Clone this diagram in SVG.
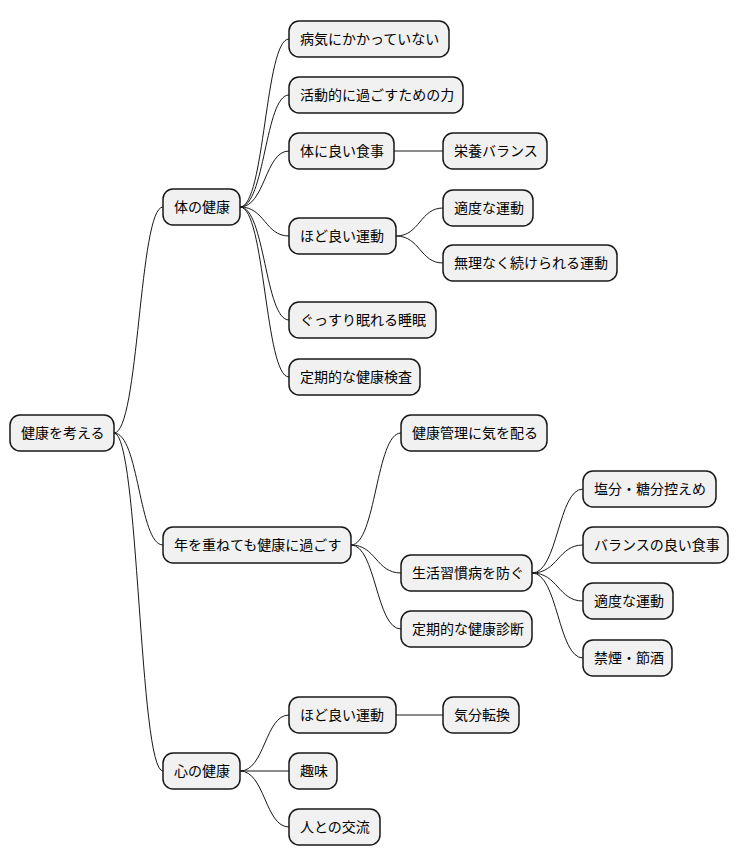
<svg xmlns="http://www.w3.org/2000/svg" width="740" height="865" viewBox="0 0 740 865">
<style>
rect{fill:#F1F1F1;stroke:#181818;stroke-width:1.5}
text{font-family:"Noto Sans CJK JP","Noto Sans",sans-serif;font-size:14px;fill:#000}
.c path{fill:none;stroke:#181818;stroke-width:1}
</style>
<rect x="0" y="0" width="740" height="865" style="fill:#fff;stroke:none"/>
<g class="c">
<path d="M114,433 C139,433 139,207 163,207"/>
<path d="M114,433 C139,433 139,545 163,545"/>
<path d="M114,433 C139,433 139,771 163,771"/>
<path d="M240,207 C265,207 265,39 289,39"/>
<path d="M240,207 C265,207 265,95 289,95"/>
<path d="M240,207 C265,207 265,151 289,151"/>
<path d="M240,207 C265,207 265,236 289,236"/>
<path d="M240,207 C265,207 265,320 289,320"/>
<path d="M240,207 C265,207 265,377 289,377"/>
<path d="M394,151 L443,151"/>
<path d="M396,236 C420,236 420,208 443,208"/>
<path d="M396,236 C420,236 420,263 443,263"/>
<path d="M351,545 C376,545 376,433 401,433"/>
<path d="M351,545 C376,545 376,573 401,573"/>
<path d="M351,545 C376,545 376,629 401,629"/>
<path d="M532,573 C558,573 558,489 583,489"/>
<path d="M532,573 C558,573 558,545 583,545"/>
<path d="M532,573 C558,573 558,601 583,601"/>
<path d="M532,573 C558,573 558,658 583,658"/>
<path d="M240,771 C265,771 265,715 289,715"/>
<path d="M240,771 L289,771"/>
<path d="M240,771 C265,771 265,827 289,827"/>
<path d="M396,715 L443,715"/>
</g>
<g id="root"><rect x="10" y="415" width="104" height="36" rx="10"/><text x="21" y="438">健康を考える</text></g>
<g id="n1"><rect x="163" y="189" width="77" height="36" rx="10"/><text x="174" y="212">体の健康</text></g>
<g id="n2"><rect x="163" y="527" width="188" height="36" rx="10"/><text x="174" y="550">年を重ねても健康に過ごす</text></g>
<g id="n3"><rect x="163" y="753" width="77" height="36" rx="10"/><text x="174" y="776">心の健康</text></g>
<g id="n11"><rect x="289" y="21" width="160" height="36" rx="10"/><text x="300" y="44">病気にかかっていない</text></g>
<g id="n12"><rect x="289" y="77" width="174" height="36" rx="10"/><text x="300" y="100">活動的に過ごすための力</text></g>
<g id="n13"><rect x="289" y="133" width="105" height="36" rx="10"/><text x="300" y="156">体に良い食事</text></g>
<g id="n131"><rect x="443" y="133" width="104" height="36" rx="10"/><text x="454" y="156">栄養バランス</text></g>
<g id="n14"><rect x="289" y="218" width="107" height="36" rx="10"/><text x="300" y="241">ほど良い運動</text></g>
<g id="n141"><rect x="443" y="190" width="90" height="36" rx="10"/><text x="454" y="213">適度な運動</text></g>
<g id="n142"><rect x="443" y="245" width="174" height="36" rx="10"/><text x="454" y="268">無理なく続けられる運動</text></g>
<g id="n15"><rect x="289" y="302" width="147" height="36" rx="10"/><text x="300" y="325">ぐっすり眠れる睡眠</text></g>
<g id="n16"><rect x="289" y="359" width="131" height="36" rx="10"/><text x="300" y="382">定期的な健康検査</text></g>
<g id="n21"><rect x="401" y="415" width="146" height="36" rx="10"/><text x="412" y="438">健康管理に気を配る</text></g>
<g id="n22"><rect x="401" y="555" width="131" height="36" rx="10"/><text x="412" y="578">生活習慣病を防ぐ</text></g>
<g id="n221"><rect x="583" y="471" width="133" height="36" rx="10"/><text x="594" y="494">塩分・糖分控えめ</text></g>
<g id="n222"><rect x="583" y="527" width="145" height="36" rx="10"/><text x="594" y="550">バランスの良い食事</text></g>
<g id="n223"><rect x="583" y="583" width="90" height="36" rx="10"/><text x="594" y="606">適度な運動</text></g>
<g id="n224"><rect x="583" y="640" width="89" height="36" rx="10"/><text x="594" y="663">禁煙・節酒</text></g>
<g id="n23"><rect x="401" y="611" width="131" height="36" rx="10"/><text x="412" y="634">定期的な健康診断</text></g>
<g id="n31"><rect x="289" y="697" width="107" height="36" rx="10"/><text x="300" y="720">ほど良い運動</text></g>
<g id="n311"><rect x="443" y="697" width="76" height="36" rx="10"/><text x="454" y="720">気分転換</text></g>
<g id="n32"><rect x="289" y="753" width="48" height="36" rx="10"/><text x="300" y="776">趣味</text></g>
<g id="n33"><rect x="289" y="809" width="91" height="36" rx="10"/><text x="300" y="832">人との交流</text></g>
</svg>
